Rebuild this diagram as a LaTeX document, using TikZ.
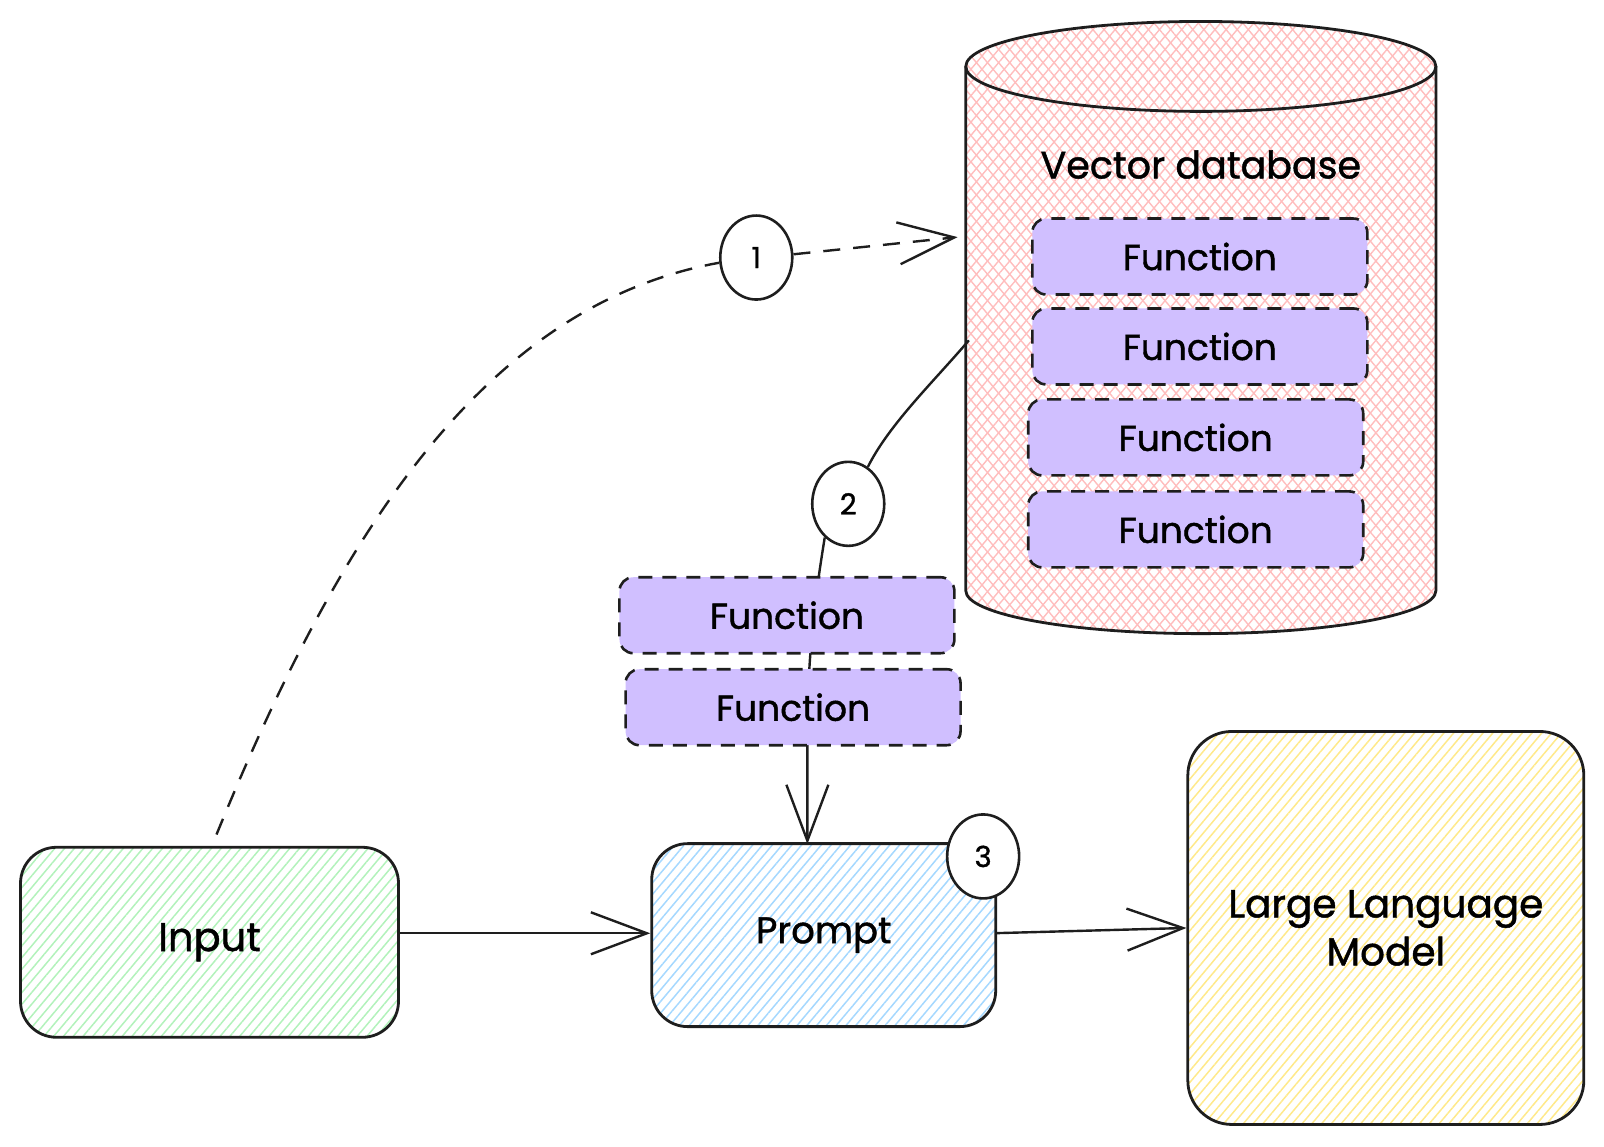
\documentclass[tikz,border=0pt]{standalone}
\usepackage{fontspec}
\setmainfont{Poppins}[FakeBold=1.2]
\usetikzlibrary{arrows.meta,patterns.meta,shapes.geometric}
\definecolor{inkc}{HTML}{1E1E1E}
\definecolor{lav}{HTML}{D0BFFF}
\definecolor{pinkc}{HTML}{FFBDBD}
\definecolor{greenc}{HTML}{B2F2BB}
\definecolor{bluec}{HTML}{A5D8FF}
\definecolor{yellowc}{HTML}{FFE98A}
\tikzset{
  outl/.style={draw=inkc, line width=2.8pt},
  fnbox/.style={draw=inkc, line width=2.6pt, dash pattern=on 14pt off 10pt, fill=lav,
    rounded corners=14pt, minimum width=335pt, minimum height=76pt, inner sep=0pt,
    font=\fontsize{36}{40}\selectfont},
  numc/.style={ellipse, draw=inkc, line width=2.6pt, fill=white, minimum width=72pt,
    minimum height=84pt, inner sep=0pt, font=\fontsize{29}{30}\selectfont},
  bigbox/.style={draw=inkc, line width=2.8pt, rounded corners=36pt, inner sep=0pt,
    font=\fontsize{37}{48}\selectfont, align=center},
  hatch/.style={pattern={Lines[angle=50,distance=7.5pt,line width=1.5pt]}, pattern color=#1},
  conn/.style={draw=inkc, line width=2.4pt},
  dsh/.style={dash pattern=on 17pt off 13pt},
  arrowend/.style={-{Straight Barb[length=56pt,width=42pt]}},
}
\begin{document}
\begin{tikzpicture}[x=1.022pt,y=-1.022pt]
\useasboundingbox (0,0) rectangle (1569.5,1122.3);

% ---- cylinder (vector database)
\def\cylbody{(945,65) -- (945,578) arc[start angle=180,end angle=0,x radius=230,y radius=42]
  -- (1405,65) arc[start angle=0,end angle=-180,x radius=230,y radius=44] -- cycle}
\path[pattern={Lines[angle=50,distance=8.5pt,line width=1.4pt]}, pattern color=pinkc] \cylbody;
\path[pattern={Lines[angle=-50,distance=8.5pt,line width=1.4pt]}, pattern color=pinkc] \cylbody;
\draw[outl] (945,65) -- (945,578) arc[start angle=180,end angle=0,x radius=230,y radius=42] -- (1405,65);
\draw[outl] (1175,65) ellipse[x radius=230, y radius=44];
\coordinate (dbp) at (948,333);
\coordinate (a1) at (937,232);
\node[font=\fontsize{38}{40}\selectfont] (vdb) at (1175,161) {Vector database};

\node[fnbox] (f1) at (1174,251) {Function};
\node[fnbox] (f2) at (1174,339) {Function};
\node[fnbox] (f3) at (1170,428) {Function};
\node[fnbox] (f4) at (1170,518) {Function};

% ---- main boxes
\node[bigbox, hatch=greenc, minimum width=378pt, minimum height=190pt, font=\fontsize{40}{48}\selectfont] (inp) at (205,922) {Input};
\node[bigbox, hatch=bluec, minimum width=344pt, minimum height=183pt] (prm) at (806,915) {Prompt};
\node[bigbox, hatch=yellowc, rounded corners=44pt, minimum width=396pt, minimum height=393pt, font=\fontsize{39}{48}\selectfont] (llm) at (1356,908) {Large Language\\Model};

% ---- numbered circles
\node[numc] (c1) at (740,252) {1};
\node[numc] (c2) at (830,493) {2};
\node[numc] (c3) at (962,838) {3};
\coordinate (p3) at (790,826);

% ---- connectors
\draw[conn,dsh] ([xshift=7pt,yshift=12pt]inp.north) .. controls (325,540) and (465,300) .. (c1.188);
\draw[conn,dsh,arrowend] (c1.5) -- (a1);
\draw[conn] (dbp) .. controls (915,372) and (870,415) .. (c2.62);
\draw[conn,arrowend] (c2.235) .. controls (800,570) and (792,620) .. (790,700) -- (p3);
\draw[conn,arrowend] ([yshift=9pt]inp.east) -- ([yshift=9pt]inp.east -| prm.west);
\draw[conn,arrowend] ([yshift=2pt]prm.east) -- (llm.west);

\node[fnbox] (f5) at (770,602) {Function};
\node[fnbox] (f6) at (776,692) {Function};
\end{tikzpicture}
\end{document}
